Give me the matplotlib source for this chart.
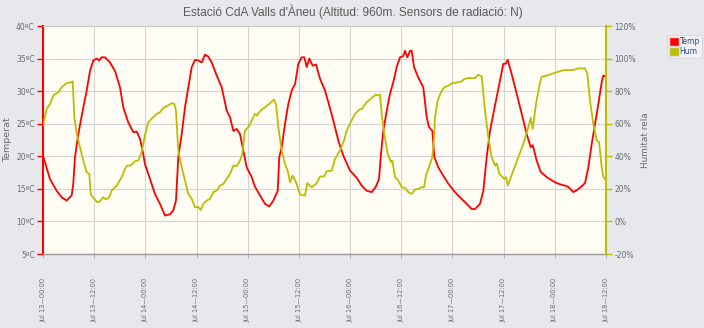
import matplotlib
matplotlib.use("Agg")
import matplotlib.pyplot as plt
from matplotlib.patches import Patch

# Hours since Jul 13 00:00 and readings
temp_hours = [0.0, 1.64, 3.21, 4.38, 5.56, 6.73, 7.10, 7.50, 8.28, 9.45, 10.25, 11.02, 11.79, 12.59,
              13.13, 13.76, 14.54, 15.71, 16.88, 18.05, 18.83, 20.0, 21.17, 21.97, 22.74, 23.52, 23.9,
              25.1, 26.26, 27.43, 28.6, 29.77, 30.55, 31.18, 31.72, 32.52, 33.29, 34.07, 34.87, 35.64,
              36.41, 37.21, 37.98, 38.76, 39.55, 40.73, 41.9, 43.07, 43.85, 44.62, 45.42, 46.19, 46.96,
              47.76, 48.93, 49.71, 50.88, 52.05, 53.06, 54.0, 55.03, 55.4, 55.97, 56.74, 57.51, 58.31,
              59.09, 59.86, 60.66, 61.27, 61.83, 62.44, 63.24, 64.01, 64.95, 66.12, 66.9, 68.07, 69.24,
              70.41, 71.98, 73.55, 74.73, 75.9, 77.07, 78.01, 78.78, 79.25, 79.79, 80.59, 81.36, 82.14,
              82.93, 83.7, 84.48, 84.88, 85.42, 86.05, 86.45, 86.99, 87.99, 89.16, 89.96, 90.5, 91.28,
              91.75, 92.68, 93.86, 95.03, 96.6, 97.77, 99.34, 100.52, 101.29, 102.46, 103.24, 104.03,
              104.81, 105.58, 106.38, 107.15, 107.93, 108.49, 108.96, 109.89, 111.07, 112.24, 113.41,
              114.35, 114.82, 115.76, 116.69, 118.1, 120.05, 121.22, 122.39, 123.17, 124.34, 125.14,
              126.31, 127.08, 127.86, 128.65, 129.43, 130.2, 131.0, 131.37, 131.77]
temp_values = [20.1, 16.5, 14.7, 13.7, 13.2, 14.0, 15.8, 19.9, 23.4, 27.5, 30.1, 33.1, 34.7, 35.0,
               34.7, 35.2, 35.2, 34.4, 33.1, 30.6, 27.5, 25.2, 23.7, 23.8, 22.7, 20.3, 18.8,
               16.5, 14.2, 12.7, 10.9, 11.1, 11.7, 13.2, 19.9, 23.4, 27.5, 30.6, 33.7, 34.8,
               34.7, 34.4, 35.6, 35.3, 34.4, 32.4, 30.6, 27.0, 26.0, 23.9, 24.2, 23.4, 20.9,
               18.3, 16.8, 15.3, 14.0, 12.7, 12.3, 13.2, 14.7, 19.9, 21.4, 25.0, 28.0, 30.1,
               31.1, 34.2, 35.2, 35.2, 33.7, 35.0, 33.9, 34.1, 31.9, 30.1, 28.3, 25.5, 22.4,
               20.1, 17.8, 16.7, 15.5, 14.7, 14.5, 15.3, 16.5, 20.4, 23.9, 27.0, 29.6, 31.4,
               33.7, 35.2, 35.4, 36.2, 35.2, 36.2, 36.2, 33.7, 32.1, 30.6, 26.0, 24.5, 23.9,
               19.9, 18.3, 17.0, 15.8, 14.5, 13.7, 12.7, 11.9, 11.9, 12.7, 14.7, 19.9,
               23.9, 26.5, 29.1, 31.6, 34.2, 34.2, 34.8, 32.6, 29.6, 26.5, 23.4,
               21.4, 21.7, 19.3, 17.6, 16.8, 16.0, 15.7, 15.5, 15.3, 14.5, 14.8,
               15.4, 15.9, 18.3, 21.9, 25.0, 28.0, 31.4, 32.4, 32.3]

hum_hours = [0.0, 0.87, 1.64, 2.42, 3.59, 4.38, 5.56, 6.73, 6.96, 7.34, 7.9, 8.68, 9.45, 10.25,
             10.86, 11.18, 11.79, 12.73, 13.36, 14.14, 14.7, 15.47, 16.11, 17.28, 18.45, 19.23,
             19.77, 20.56, 21.57, 22.34, 23.14, 23.92, 24.69, 25.86, 26.66, 27.43, 28.21, 29.24,
             30.18, 30.79, 31.18, 31.72, 32.52, 33.29, 34.07, 34.87, 35.64, 36.41, 36.98, 37.58,
             38.38, 39.16, 39.93, 40.73, 41.5, 42.27, 43.07, 43.85, 44.62, 45.42, 46.19, 46.73,
             47.36, 48.14, 48.93, 49.71, 50.11, 50.88, 52.05, 53.22, 54.16, 54.63, 55.17, 55.97,
             56.74, 57.38, 57.91, 58.55, 59.32, 60.26, 61.43, 61.97, 63.0, 64.17, 64.95, 65.89,
             66.52, 67.69, 68.46, 69.64, 70.57, 71.21, 72.15, 73.15, 74.16, 74.73, 75.9, 77.07,
             78.01, 78.62, 79.02, 79.41, 80.02, 80.82, 81.59, 81.9, 82.53, 83.3, 84.1, 84.88,
             85.65, 86.45, 87.22, 88.0, 88.79, 89.33, 89.8, 90.34, 91.28, 91.75, 91.91, 92.54,
             93.32, 94.09, 95.03, 95.97, 97.37, 98.17, 98.78, 99.72, 101.29, 102.06, 102.86,
             103.63, 104.41, 105.2, 105.98, 106.38, 106.99, 107.78, 108.16, 108.56, 108.96,
             110.27, 111.44, 112.61, 113.79, 114.35, 114.82, 115.59, 116.37, 116.93, 118.1,
             119.27, 120.45, 121.62, 122.79, 124.34, 125.51, 127.08, 127.62, 128.25, 129.03,
             129.82, 130.36, 131.0, 131.37, 131.77]
hum_values = [58.8, 69.1, 72.1, 77.3, 79.3, 82.4, 85.0, 85.5, 86.0, 64.0, 53.7, 45.6, 37.4, 30.2,
              29.2, 16.9, 14.5, 11.8, 12.4, 14.9, 13.5, 14.5, 19.0, 22.0, 27.2, 32.3,
              34.3, 34.3, 37.0, 37.4, 42.5, 53.2, 60.9, 64.0, 66.0, 67.0, 69.7, 71.1,
              72.6, 72.2, 68.0, 43.5, 33.3, 25.1, 16.9, 13.9, 8.8, 8.8, 7.1, 10.8,
              12.8, 13.9, 18.0, 19.0, 22.0, 23.0, 26.1, 29.2, 34.3, 34.0, 37.4, 41.5,
              55.8, 57.9, 61.9, 66.0, 65.0, 67.7, 70.1, 72.6, 74.8, 72.0, 57.9, 43.5,
              35.3, 31.2, 24.1, 28.2, 24.1, 16.5, 15.9, 23.5, 21.0, 23.5, 27.6, 27.6,
              30.8, 31.2, 38.4, 43.5, 49.6, 55.8, 60.9, 66.0, 68.7, 69.1, 73.2, 75.8,
              77.9, 77.3, 77.9, 66.0, 53.7, 41.5, 36.4, 37.4, 27.2, 25.1, 21.0, 20.6,
              18.0, 16.9, 19.6, 20.0, 21.0, 21.0, 28.2, 32.3, 39.4, 53.7, 64.0, 74.2,
              79.3, 82.4, 83.4, 84.8, 85.5, 86.0, 87.5, 88.0, 88.0, 90.1, 89.0,
              68.0, 51.7, 39.4, 34.3, 35.6, 29.2, 27.2, 26.0, 27.2, 22.0,
              31.2, 39.4, 47.6, 57.9, 63.6, 56.8, 72.1, 83.4, 88.9, 89.5,
              90.6, 91.6, 92.6, 93.0, 93.0, 94.0, 94.0, 90.6, 74.2, 59.9,
              49.6, 48.9, 33.3, 27.2, 26.0]

tick_hours = list(range(0, 133, 12))
tick_labels = ["Jul 13\u201400:00", "Jul 13\u201412:00", "Jul 14\u201400:00", "Jul 14\u201412:00",
               "Jul 15\u201400:00", "Jul 15\u201412:00", "Jul 16\u201400:00", "Jul 16\u201412:00",
               "Jul 17\u201400:00", "Jul 17\u201412:00", "Jul 18\u201400:00", "Jul 18\u201412:00"]
temp_ticks = [5, 10, 15, 20, 25, 30, 35, 40]
hum_ticks = [-20, 0, 20, 40, 60, 80, 100, 120]

TEMP_COLOR = "#ff0000"
HUM_COLOR = "#bdbd00"
LABEL_COLOR = "#6b6b6b"
GRID_COLOR = "#d4d4d4"

fig = plt.figure(figsize=(7.04, 3.28), dpi=100, facecolor="#e7e8ec")
ax = fig.add_axes([43 / 704, 1 - 254 / 328, (606 - 43) / 704, (254 - 26) / 328])
ax.set_facecolor("#fffdf4")

ax.plot(temp_hours, temp_values, color=TEMP_COLOR, lw=1.3, zorder=3)
ax.set_xlim(0, 132)
ax.set_ylim(5, 40)
ax.set_yticks(temp_ticks)
ax.set_yticklabels([f"{t}\u00baC" for t in temp_ticks])
ax.set_xticks(tick_hours)
ax.set_xticklabels(tick_labels, rotation=90)
ax.grid(True, color=GRID_COLOR, lw=0.8, zorder=0)
ax.tick_params(axis="y", colors=TEMP_COLOR, labelcolor=LABEL_COLOR, labelsize=5.5,
               length=4, width=1, pad=2)
ax.tick_params(axis="x", colors="#b5b5b5", labelcolor=LABEL_COLOR, labelsize=4.8,
               length=3, width=0.8, pad=14)
ax.spines["left"].set_color(TEMP_COLOR)
ax.spines["left"].set_linewidth(1.5)
ax.spines["bottom"].set_color("#9a9a9a")
ax.spines["bottom"].set_linewidth(1.0)
ax.spines["top"].set_color("#c8c8c8")
ax.spines["right"].set_visible(False)

ax2 = ax.twinx()
ax2.plot(hum_hours, hum_values, color=HUM_COLOR, lw=1.3, zorder=3)
ax2.set_ylim(-20, 120)
ax2.set_yticks(hum_ticks)
ax2.set_yticklabels([f"{h}%" for h in hum_ticks])
ax2.tick_params(axis="y", colors=HUM_COLOR, labelcolor=LABEL_COLOR, labelsize=5.5,
                length=4, width=1, pad=2)
for side in ("left", "top", "bottom"):
    ax2.spines[side].set_visible(False)
ax2.spines["right"].set_color(HUM_COLOR)
ax2.spines["right"].set_linewidth(1.5)

fig.text(353 / 704, 1 - 12 / 328, "Estaci\u00f3 CdA Valls d'\u00c0neu (Altitud: 960m. Sensors de radiaci\u00f3: N)",
         ha="center", va="center", fontsize=8.6, color="#5a5a5a", family="Liberation Sans")

fig.text(8 / 704, 1 - 140 / 328, "Temperat", rotation=90, ha="center", va="center",
         fontsize=6.8, color=LABEL_COLOR)
fig.text(645 / 704, 1 - 140 / 328, "Humitat rela", rotation=90, ha="center", va="center",
         fontsize=6.4, color=LABEL_COLOR)

handles = [Patch(facecolor=TEMP_COLOR, edgecolor="#dddddd"), Patch(facecolor=HUM_COLOR, edgecolor="#dddddd")]
leg = fig.legend(handles, ["Temp", "Hum"], loc="upper left", bbox_to_anchor=(667 / 704, 1 - 35 / 328),
                 fontsize=5.5, frameon=True, handlelength=1.3, handleheight=1.3, handletextpad=0.1,
                 labelspacing=0.15, borderpad=0.25, borderaxespad=0, fancybox=False)
leg.get_frame().set_facecolor("#f4f4f6")
leg.get_frame().set_edgecolor("#d0d0d0")
leg.get_frame().set_linewidth(0.6)
for txt in leg.get_texts():
    txt.set_color("#2f4f80")

fig.savefig("out.png", dpi=100, facecolor=fig.get_facecolor())
